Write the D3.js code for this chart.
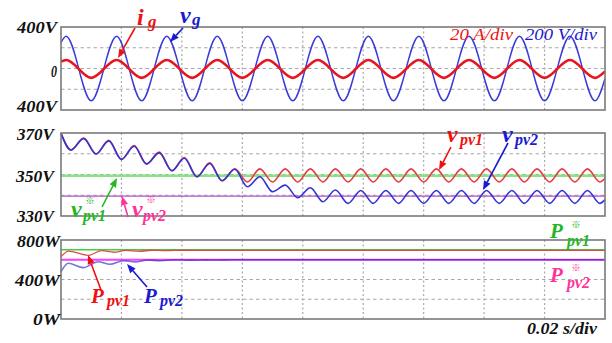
<!DOCTYPE html>
<html><head><meta charset="utf-8">
<script src="https://cdn.jsdelivr.net/npm/d3@7/dist/d3.min.js"></script>
<style>html,body{margin:0;padding:0;background:#fff;}svg{display:block;}</style>
</head><body>
<script>
// ---------------- data (time in ms, 0.02 s/div) ----------------
const timeTicks = [0, 20, 40, 60, 80, 100, 120, 140, 160, 180];

// Panel 1: grid voltage / current extrema (60 Hz)
const vgT = [0, 1.7, 10.0, 18.4, 26.7, 35.0, 43.4, 51.7, 60.0, 68.4, 76.7, 85.0, 93.4, 101.7, 110.0, 118.4, 126.7, 135.0, 143.4, 151.7, 160.0, 168.4, 176.7, 180];
const vgV = [250, 311, -311, 311, -311, 311, -311, 311, -311, 311, -311, 311, -311, 311, -311, 311, -311, 311, -311, 311, -311, 311, -311, -96];
const igV = [6.6, 8.2, -9.0, 8.2, -9.0, 8.2, -9.0, 8.2, -9.0, 8.2, -9.0, 8.2, -9.0, 8.2, -9.0, 8.2, -9.0, 8.2, -9.0, 8.2, -9.0, 8.2, -9.0, -2.8];
const p1Labels = ["400V", "0", "400V"];
const p1Values = [400, 0, -400];

// Panel 2: PV voltages extrema (120 Hz ripple)
const vpvT = [0, 3.3, 7.5, 11.6, 15.8, 20.0, 24.2, 28.3, 32.5, 36.7, 40.8, 45.0, 49.2, 53.3, 57.5, 61.7, 65.8, 70.0, 74.2, 78.3, 82.5, 86.7, 90.8, 95.0, 99.2, 103.3, 107.5, 111.7, 115.8, 120.0, 124.2, 128.3, 132.5, 136.7, 140.8, 145.0, 149.2, 153.3, 157.5, 161.7, 165.8, 170.0, 174.2, 178.3, 180];
const vpv1V = [370, 361.8, 367.6, 359.9, 366.5, 357.3, 364.0, 355.1, 360.8, 351.8, 358.2, 348.9, 355.6, 347.0, 352.7,
  346.4, 352.7, 346.4, 352.7, 346.4, 352.7, 346.4, 352.7, 346.4, 352.7, 346.4, 352.7, 346.4, 352.7, 346.4,
  352.7, 346.4, 352.7, 346.4, 352.7, 346.4, 352.7, 346.4, 352.7, 346.4, 352.7, 346.4, 352.7, 346.4, 348.2];
const vpv2V = [369.8, 361.8, 367.3, 359.9, 366.2, 357.3, 363.6, 355.1, 360.4, 351.8, 357.8, 348.9, 355.3, 347.0, 352.5,
  344.1, 348.9, 341.7, 344.9, 338.8, 343.6, 336.9, 342.5, 336.1, 342.3, 336.1, 342.3, 336.1, 342.3, 336.1,
  342.3, 336.1, 342.3, 336.1, 342.3, 336.1, 342.3, 336.1, 342.3, 336.1, 342.3, 336.1, 342.3, 336.1, 337.9];
const vpv1Ref = 349.4;
const vpv2Ref = 339.6;
const p2Labels = ["370V", "350V", "330V"];
const p2Values = [370, 350, 330];

// Panel 3: PV powers
const ppv1T = [0, 2.5, 9.0, 13.5, 17.5, 21.5, 26.0, 30.0, 34.5, 40.0, 50.0, 180];
const ppv1V = [631, 688, 645, 692, 676, 694, 686, 696, 692, 696, 694, 694];
const ppv2T = [0, 2.4, 7.4, 12.3, 16.2, 20.6, 24.5, 28.8, 32.8, 37.7, 43.0, 48.0, 52.0, 56.0, 180];
const ppv2V = [478, 564, 520, 580, 554, 590, 578, 597, 590, 600, 596, 599, 597, 600, 600];
const ppv1Ref = 702;
const ppv2Ref = 600;
const p3Labels = ["800W", "400W", "0W"];
const p3Values = [800, 400, 0];

// ---------------- drawing ----------------
const W = 612, H = 343;
const serif = "'Liberation Serif','Times New Roman',serif";
const svg = d3.select("body").append("svg").attr("width", W).attr("height", H);

const x = d3.scaleLinear().domain([0, 180]).range([61, 605]);
const y1 = d3.scaleLinear().domain([-400, 400]).range([110, 27]);
const y1i = d3.scaleLinear().domain([-40, 40]).range([110, 27]);
const y2 = d3.scaleLinear().domain([330, 370]).range([216, 133]);
const y3 = d3.scaleLinear().domain([0, 800]).range([319, 240]);

function panelFrame(ys) {
  const [lo, hi] = ys.domain();
  const step = (hi - lo) / 4;
  const g = svg.append("g");
  g.selectAll("line.v").data(timeTicks.slice(1, -1)).join("line")
    .attr("x1", d => x(d)).attr("x2", d => x(d))
    .attr("y1", ys(hi)).attr("y2", ys(lo))
    .attr("stroke", "#a8a8a8").attr("stroke-width", 1.2).attr("stroke-dasharray", "2,2.5");
  g.selectAll("line.h").data([1, 2, 3].map(k => lo + k * step)).join("line")
    .attr("x1", x(0)).attr("x2", x(180))
    .attr("y1", d => ys(d)).attr("y2", d => ys(d))
    .attr("stroke", "#a8a8a8").attr("stroke-width", 1.2).attr("stroke-dasharray", "3.5,3");
  return g;
}
function frameBorder(ys) {
  const [lo, hi] = ys.domain();
  svg.append("rect").attr("x", x(0)).attr("y", ys(hi))
    .attr("width", x(180) - x(0)).attr("height", ys(lo) - ys(hi))
    .attr("fill", "none").attr("stroke", "#7a7a7a").attr("stroke-width", 1.6);
}
function curve(T, V, ys, color, width, opacity) {
  const line = d3.line().x(d => x(d[0])).y(d => ys(d[1])).curve(d3.curveMonotoneX);
  svg.append("path").datum(d3.zip(T, V)).attr("d", line)
    .attr("fill", "none").attr("stroke", color).attr("stroke-width", width)
    .attr("stroke-opacity", opacity == null ? 1 : opacity).attr("stroke-linejoin", "round");
}
function hline(v, ys, color, width, opacity) {
  svg.append("line").attr("x1", x(0)).attr("x2", x(180))
    .attr("y1", ys(v)).attr("y2", ys(v))
    .attr("stroke", color).attr("stroke-width", width).attr("stroke-opacity", opacity == null ? 1 : opacity);
}
function yLabels(labels, values, ys, rightX, lens, offs) {
  labels.forEach((t, i) => {
    svg.append("text").attr("x", rightX).attr("y", ys(values[i]) + offs[i])
      .attr("text-anchor", "end").attr("font-family", serif).attr("font-weight", "bold")
      .attr("font-style", "italic").attr("font-size", 16.5)
      .attr("textLength", lens[i]).attr("lengthAdjust", "spacingAndGlyphs")
      .attr("fill", "#111").text(t);
  });
}
function label(mx, my, main, sx, sy, sub, color, ms, ss, star) {
  const t = svg.append("text").attr("fill", color).attr("font-family", serif)
    .attr("font-weight", "bold").attr("font-style", "italic");
  t.append("tspan").attr("x", mx).attr("y", my).attr("font-size", ms).text(main);
  t.append("tspan").attr("x", sx).attr("y", sy).attr("font-size", ss).text(sub);
  if (star) {
    svg.append("text").attr("x", star[0]).attr("y", star[1]).attr("fill", color)
      .attr("font-size", 9.5).attr("font-weight", "bold").attr("text-anchor", "middle")
      .attr("font-family", "'Noto Sans CJK SC','DejaVu Sans',sans-serif").text("※");
  }
}
function arrow(x1, y1, x2, y2, color) {
  const a = Math.atan2(y2 - y1, x2 - x1), L = 9, w = 3.6;
  const bx = x2 - L * Math.cos(a), by = y2 - L * Math.sin(a);
  svg.append("line").attr("x1", x1).attr("y1", y1).attr("x2", bx).attr("y2", by)
    .attr("stroke", color).attr("stroke-width", 1.6);
  const p = [[x2, y2], [bx + w * Math.sin(a), by - w * Math.cos(a)], [bx - w * Math.sin(a), by + w * Math.cos(a)]];
  svg.append("path").attr("d", "M" + p.map(q => q.join(",")).join("L") + "Z").attr("fill", color);
}

// Panel 1
panelFrame(y1);
curve(vgT, vgV, y1, "#3a3ad8", 1.4);
curve(vgT, igV, y1i, "#e8141e", 2.6);
frameBorder(y1);
yLabels(p1Labels, p1Values, y1, 57, [40, 6, 40], [6, 8.5, 2]);

// Panel 2
panelFrame(y2);
hline(vpv1Ref, y2, "#86e486", 2.6);
hline(vpv2Ref, y2, "#b34fcb", 1.4);
curve(vpvT, vpv1V, y2, "#e83a3e", 1.6);
curve(vpvT, vpv2V, y2, "#3434d4", 1.6);
frameBorder(y2);
yLabels(p2Labels, p2Values, y2, 54, [37, 38, 37], [7, 7.5, 6]);

// Panel 3
panelFrame(y3);
hline(ppv1Ref, y3, "#3fcf3f", 1.6);
curve(ppv1T, ppv1V, y3, "#e04a4a", 1.3);
hline(ppv2Ref, y3, "#ff3cff", 2.0);
curve(ppv2T, ppv2V, y3, "#2a2ad0", 1.6, 0.65);
frameBorder(y3);
yLabels(p3Labels, p3Values, y3, 60, [43, 45, 27], [7, 6.5, 6]);

// Annotations
label(137, 25, "i", 148, 27, "g", "#ee1111", 24, 17);
arrow(135, 28, 118, 58, "#ee1111");
label(180, 23, "v", 192, 25, "g", "#1a1ad0", 24, 17);
arrow(183, 28, 170, 42, "#1a1ad0");
svg.append("text").attr("x", 450).attr("y", 40).attr("fill", "#ee1111")
  .attr("font-family", serif).attr("font-style", "italic").attr("font-size", 16)
  .attr("textLength", 63).attr("lengthAdjust", "spacingAndGlyphs").text("20 A/div");
svg.append("text").attr("x", 525).attr("y", 40).attr("fill", "#1a1ad0")
  .attr("font-family", serif).attr("font-style", "italic").attr("font-size", 16)
  .attr("textLength", 72).attr("lengthAdjust", "spacingAndGlyphs").text("200 V/div");

label(71, 217, "v", 83, 221, "pv1", "#22b822", 24, 16, [90, 204]);
arrow(102, 207, 117, 178, "#22b822");
label(132, 217, "v", 143, 221, "pv2", "#ff3399", 24, 16, [151, 203]);
arrow(128, 217, 122, 196, "#ff3399");
label(447, 142, "v", 460, 145, "pv1", "#ee1111", 24, 16);
arrow(451, 147, 439, 170, "#ee1111");
label(502, 142, "v", 515, 145, "pv2", "#1a1ad0", 24, 16);
arrow(508, 143, 483, 190, "#1a1ad0");

label(91, 303, "P", 107, 306, "pv1", "#ee1111", 21, 16);
arrow(101, 290, 88, 255, "#ee1111");
label(144, 303, "P", 160, 306, "pv2", "#1a1ad0", 21, 16);
arrow(147, 287, 127, 264, "#1a1ad0");
label(550, 238, "P", 567, 246, "pv1", "#22b822", 21, 16, [576, 228]);
label(550, 282, "P", 567, 288, "pv2", "#ff3399", 21, 16, [576, 271]);

svg.append("text").attr("x", 527).attr("y", 334).attr("fill", "#111")
  .attr("font-family", serif).attr("font-weight", "bold").attr("font-style", "italic")
  .attr("font-size", 17).attr("textLength", 70).attr("lengthAdjust", "spacingAndGlyphs").text("0.02 s/div");
</script>
</body></html>
